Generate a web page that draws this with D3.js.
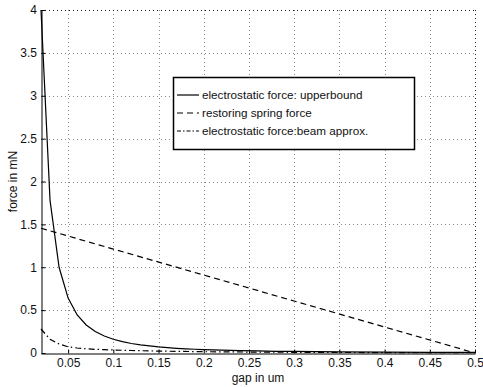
<!DOCTYPE html>
<html>
<head>
<meta charset="utf-8">
<script src="https://cdn.jsdelivr.net/npm/d3@7"></script>
<style>
  body { margin: 0; background: #fff; }
  text { font-family: "Liberation Sans", Arial, Helvetica, sans-serif; fill: #111; }
</style>
</head>
<body>
<div id="chart"></div>
<script>
// gap values (um) and forces (mN)
const upperGap = [0.02, 0.03, 0.04, 0.05, 0.06, 0.07, 0.08, 0.09, 0.10, 0.11, 0.12, 0.13, 0.14, 0.15,
                  0.16, 0.17, 0.18, 0.19, 0.20, 0.22, 0.24, 0.26, 0.28, 0.30, 0.35, 0.40, 0.45, 0.50];
const upperForce = [4.0, 1.78, 1.0, 0.64, 0.444, 0.327, 0.25, 0.198, 0.16, 0.132, 0.111, 0.095, 0.082, 0.071,
                    0.0625, 0.055, 0.049, 0.044, 0.04, 0.033, 0.028, 0.024, 0.020, 0.018, 0.013, 0.010, 0.008, 0.0064];

const springGap = [0.02, 0.1, 0.2, 0.3, 0.4, 0.5];
const springForce = [1.455, 1.212, 0.909, 0.606, 0.303, 0.0];

const beamGap = [0.02, 0.03, 0.04, 0.05, 0.06, 0.07, 0.08, 0.09, 0.10, 0.12, 0.15, 0.20, 0.25, 0.30, 0.35, 0.40, 0.45, 0.50];
const beamForce = [0.28, 0.16, 0.105, 0.072, 0.058, 0.049, 0.043, 0.039, 0.035, 0.029, 0.022, 0.015, 0.011, 0.008, 0.006, 0.005, 0.004, 0.003];

const xTicks = [0.05, 0.1, 0.15, 0.2, 0.25, 0.3, 0.35, 0.4, 0.45, 0.5];
const yTicks = [0, 0.5, 1, 1.5, 2, 2.5, 3, 3.5, 4];

const legendLabels = ['electrostatic force: upperbound', 'restoring spring force', 'electrostatic force:beam approx.'];
const dashStyles = [null, '6,4', '6,3,1.5,3'];

const width = 483, height = 387;
const margin = { left: 41, right: 8, top: 10, bottom: 34 };

const svg = d3.select('#chart').append('svg')
    .attr('width', width)
    .attr('height', height);

const x = d3.scaleLinear().domain([0.02, 0.5]).range([margin.left, width - margin.right]);
const y = d3.scaleLinear().domain([0, 4]).range([height - margin.bottom, margin.top]);

// grid (dotted)
const grid = svg.append('g');
grid.selectAll('.vgrid')
    .data(xTicks)
    .enter().append('line')
    .attr('x1', d => Math.round(x(d)) + 0.5)
    .attr('x2', d => Math.round(x(d)) + 0.5)
    .attr('y1', y(4))
    .attr('y2', y(0))
    .attr('stroke', d => d === 0.5 ? '#222' : '#888')
    .attr('stroke-dasharray', '1,3');
grid.selectAll('.hgrid')
    .data(yTicks.filter(d => d > 0))
    .enter().append('line')
    .attr('x1', x(0.02))
    .attr('x2', x(0.5))
    .attr('y1', d => Math.round(y(d)) + 0.5)
    .attr('y2', d => Math.round(y(d)) + 0.5)
    .attr('stroke', d => d === 4 ? '#222' : '#888')
    .attr('stroke-dasharray', '1,3');

// axes: inward ticks on left and bottom
const xAxis = d3.axisBottom(x).tickValues(xTicks).tickSizeInner(-4).tickSizeOuter(0)
    .tickPadding(5).tickFormat(d3.format('~g'));
const yAxis = d3.axisLeft(y).tickValues(yTicks).tickSizeInner(-4).tickSizeOuter(0)
    .tickPadding(4.5).tickFormat(d3.format('~g'));

const gx = svg.append('g')
    .attr('transform', 'translate(0,' + (Math.round(y(0)) + 0.5) + ')')
    .call(xAxis);
const gy = svg.append('g')
    .attr('transform', 'translate(' + (Math.round(x(0.02)) + 0.5) + ',0)')
    .call(yAxis);

[gx, gy].forEach(g => {
    g.selectAll('path, line').attr('stroke', '#000');
    g.selectAll('text').style('font-size', '12px').attr('fill', '#111')
        .style('font-family', '"Liberation Sans", Arial, sans-serif');
});

// series
const line = d3.line().x(d => x(d[0])).y(d => y(d[1]));
const series = [
    d3.zip(upperGap, upperForce),
    d3.zip(springGap, springForce),
    d3.zip(beamGap, beamForce)
];

svg.selectAll('.series')
    .data(series)
    .enter().append('path')
    .attr('d', line)
    .attr('fill', 'none')
    .attr('stroke', '#000')
    .attr('stroke-width', 1.2)
    .attr('stroke-dasharray', (d, i) => dashStyles[i]);

// axis labels
svg.append('text')
    .text('gap in um')
    .attr('x', (x(0.02) + x(0.5)) / 2)
    .attr('y', 381.5)
    .style('font-size', '12px')
    .style('text-anchor', 'middle');

svg.append('text')
    .text('force in mN')
    .attr('transform', 'translate(17,' + ((y(0) + y(4)) / 2) + ') rotate(-90)')
    .style('font-size', '12px')
    .style('text-anchor', 'middle');

// legend
const legend = svg.append('g');
legend.append('rect')
    .attr('x', 173.5)
    .attr('y', 77.5)
    .attr('width', 241)
    .attr('height', 72)
    .attr('fill', '#fff')
    .attr('stroke', '#000')
    .attr('stroke-width', 1.5);

const legendG = legend.selectAll('.legend')
    .data(legendLabels)
    .enter().append('g')
    .attr('transform', (d, i) => 'translate(0,' + (95 + i * 18) + ')');

legendG.append('line')
    .attr('x1', 177)
    .attr('x2', 199)
    .attr('y1', 0)
    .attr('y2', 0)
    .attr('stroke', '#000')
    .attr('stroke-width', 1.2)
    .attr('stroke-dasharray', (d, i) => i === 2 ? '4,2,1.5,2' : dashStyles[i]);

legendG.append('text')
    .text(d => d)
    .attr('x', 202)
    .attr('y', 4)
    .style('font-size', '11.7px');
</script>
</body>
</html>
